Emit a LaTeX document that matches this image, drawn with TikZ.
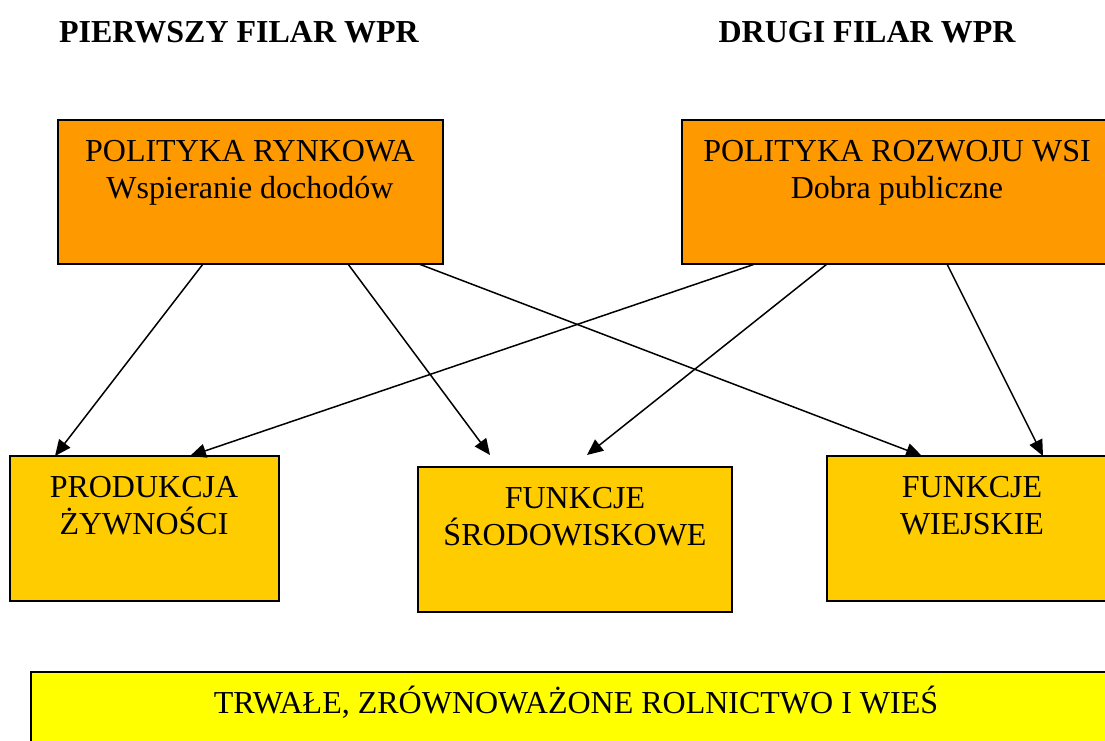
\documentclass[tikz,border=0pt]{standalone}
\usepackage{fontspec}
\setmainfont{Liberation Serif}
\usetikzlibrary{arrows.meta}

\definecolor{pomarancz}{HTML}{FF9900}
\definecolor{zloty}{HTML}{FFCC00}
\definecolor{zolty}{HTML}{FFFF00}

\begin{document}
\begin{tikzpicture}[x=1pt, y=-1pt,
    pole/.style={draw=black, line width=2pt, anchor=north west, inner sep=0pt, outer sep=0pt},
    napis/.style={align=center, inner sep=0pt, font=\fontsize{32}{37}\selectfont},
    tytul/.style={anchor=base, inner sep=0pt, font=\fontsize{32}{37}\selectfont\bfseries},
    strz/.style={->, line width=1.5pt},
    >={Triangle[length=16pt, width=14pt]}]
    \useasboundingbox (0,0) rectangle (1105,740);
    \clip (0,0) rectangle (1105,740);

    % naglowki
    \node[tytul] at (239,42) (filar1) {PIERWSZY FILAR WPR};
    \node[tytul] at (867,42) (filar2) {DRUGI FILAR WPR};

    % polityki
    \node[pole, fill=pomarancz, minimum width=385pt, minimum height=144pt] at (58,120) (rynek) {};
    \node[pole, fill=pomarancz, minimum width=429pt, minimum height=144pt] at (682,120) (rozwoj) {};
    \node[napis, anchor=north] at (250,140) (rynekT) {POLITYKA RYNKOWA\\Wspieranie dochodów};
    \node[napis, anchor=north] at (897,140) (rozwojT) {POLITYKA ROZWOJU WSI\\Dobra publiczne};

    % funkcje
    \node[pole, fill=zloty, minimum width=269pt, minimum height=145pt] at (10,456) (prod) {};
    \node[pole, fill=zloty, minimum width=314pt, minimum height=145pt] at (418,467) (srod) {};
    \node[pole, fill=zloty, minimum width=290pt, minimum height=145pt] at (827,456) (wies) {};
    \node[napis, anchor=north] at (144,476) (prodT) {PRODUKCJA\\ŻYWNOŚCI};
    \node[napis, anchor=north] at (575,487) (srodT) {FUNKCJE\\ŚRODOWISKOWE};
    \node[napis, anchor=north] at (972,476) (wiesT) {FUNKCJE\\WIEJSKIE};

    % cel
    \node[pole, fill=zolty, minimum width=1090pt, minimum height=100pt] at (31,672) (cel) {};
    \node[napis, anchor=base] at (576,713) (celT) {TRWAŁE, ZRÓWNOWAŻONE ROLNICTWO I WIEŚ};

    \draw[strz] ([xshift=145pt]rynek.south west) -- ([xshift=45pt]prod.north west);
    \draw[strz] ([xshift=290pt]rynek.south west) -- ([xshift=72pt, yshift=12pt]srod.north west);
    \draw[strz] ([xshift=361pt]rynek.south west) -- ([xshift=95pt]wies.north west);
    \draw[strz] ([xshift=73pt]rozwoj.south west) -- ([xshift=180pt]prod.north west);
    \draw[strz] ([xshift=145pt]rozwoj.south west) -- ([xshift=169pt, yshift=12pt]srod.north west);
    \draw[strz] ([xshift=265pt]rozwoj.south west) -- ([xshift=216pt]wies.north west);
\end{tikzpicture}
\end{document}
